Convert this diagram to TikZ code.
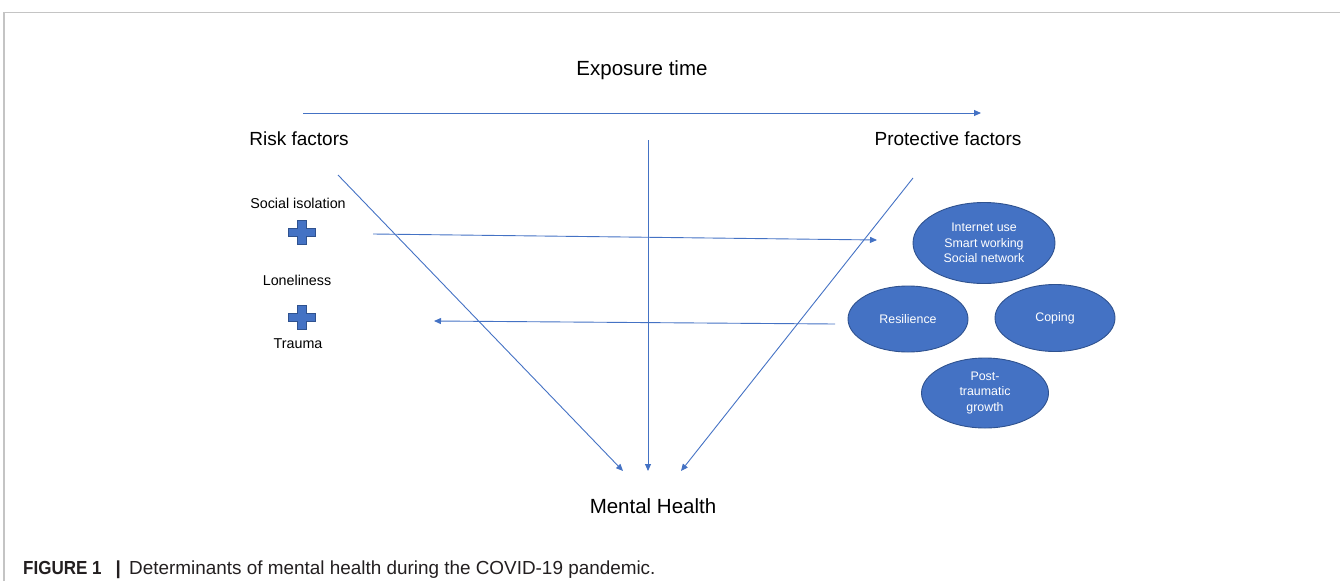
\documentclass[tikz,border=0pt]{standalone}
\usepackage{fontspec}
\setmainfont{Liberation Sans}
\usetikzlibrary{arrows.meta,shapes.geometric}
\definecolor{blueline}{HTML}{4472C4}
\definecolor{bluefill}{HTML}{4472C4}
\definecolor{blueedge}{HTML}{2F528F}
\definecolor{framegray}{HTML}{C4C4C4}
\definecolor{captext}{HTML}{231F20}
\tikzset{
  conn/.style={draw=blueline, line width=0.9pt, -{Triangle[length=7pt,width=6pt]}},
  bigtext/.style={anchor=base, inner sep=0pt, font=\fontsize{20.5}{24}\selectfont},
  midtext/.style={anchor=base, inner sep=0pt, font=\fontsize{19}{23}\selectfont},
  smalltext/.style={anchor=base, inner sep=0pt, font=\fontsize{14.3}{17}\selectfont},
  captext/.style={anchor=base west, inner sep=0pt, text=captext, font=\fontsize{18.9}{22}\selectfont},
  oval/.style={ellipse, fill=bluefill, draw=blueedge, line width=0.9pt, inner sep=0pt,
     text=white, align=center, font=\fontsize{12.4}{15.5}\selectfont},
  plussign/.pic={
    \path[fill=bluefill, draw=blueedge, line width=0.8pt]
      (-4.7,-11.8) -- (4.7,-11.8) -- (4.7,-4.3) -- (13.5,-4.3) -- (13.5,4.3) -- (4.7,4.3) -- (4.7,11.8)
      -- (-4.7,11.8) -- (-4.7,4.3) -- (-13.5,4.3) -- (-13.5,-4.3) -- (-4.7,-4.3) -- cycle;
  }
}
\begin{document}
\begin{tikzpicture}[x=1pt,y=-1pt]
\useasboundingbox (0,0) rectangle (1340,581);
% frame
\draw[framegray, line width=1.5pt] (4,581) -- (4,12.5) -- (1340,12.5);
% titles
\node[bigtext] (exp) at (642,75.5) {Exposure time};
\coordinate (ts) at (303,113);
\coordinate (te) at (981,113);
\draw[conn] (ts) -- (te);
\node[midtext] (risk) at (299,145) {Risk factors};
\node[midtext] (prot) at (948,145) {Protective factors};
% risk factors
\node[smalltext] (soc) at (298,208) {Social isolation};
\pic (plusa) at (302,232.5) {plussign};
\node[smalltext] (lone) at (297,285) {Loneliness};
\pic (plusb) at (302,317.5) {plussign};
\node[smalltext] (trauma) at (298,348) {Trauma};
% protective ovals
\node[oval, minimum width=142pt, minimum height=81pt] (inet) at (984,243)
  {Internet use\\Smart working\\Social network};
\node[oval, minimum width=120pt, minimum height=66pt] (resil) at (908,319) {Resilience};
\node[oval, minimum width=120pt, minimum height=67pt] (coping) at (1055,318) {Coping};
\node[oval, minimum width=127pt, minimum height=70pt] (ptg) at (985,393) {Post-\\traumatic\\growth};
% mental health
\node[bigtext] (mh) at (653,513) {Mental Health};
% connectors
\coordinate (r0) at (338,175);
\coordinate (r1) at (623,471);
\coordinate (c0) at (648,140);
\coordinate (c1) at (648,471);
\coordinate (p0) at (913,178);
\coordinate (p1) at (681,471);
\coordinate (h0) at (373,234);
\coordinate (h1) at (877,240);
\coordinate (k0) at (835,324);
\coordinate (k1) at (434,321);
\draw[conn] (r0) -- (r1);
\draw[conn] (c0) -- (c1);
\draw[conn] (p0) -- (p1);
\draw[conn] (h0) -- (h1);
\draw[conn] (k0) -- (k1);
% caption
\node[captext] (capa) at (23,574) {\scalebox{0.9}[1]{\bfseries FIGURE 1}};
\node[captext] (capb) at (115.5,574) {\bfseries |};
\node[captext] (capc) at (129,574) {Determinants of mental health during the COVID-19 pandemic.};
\end{tikzpicture}
\end{document}
